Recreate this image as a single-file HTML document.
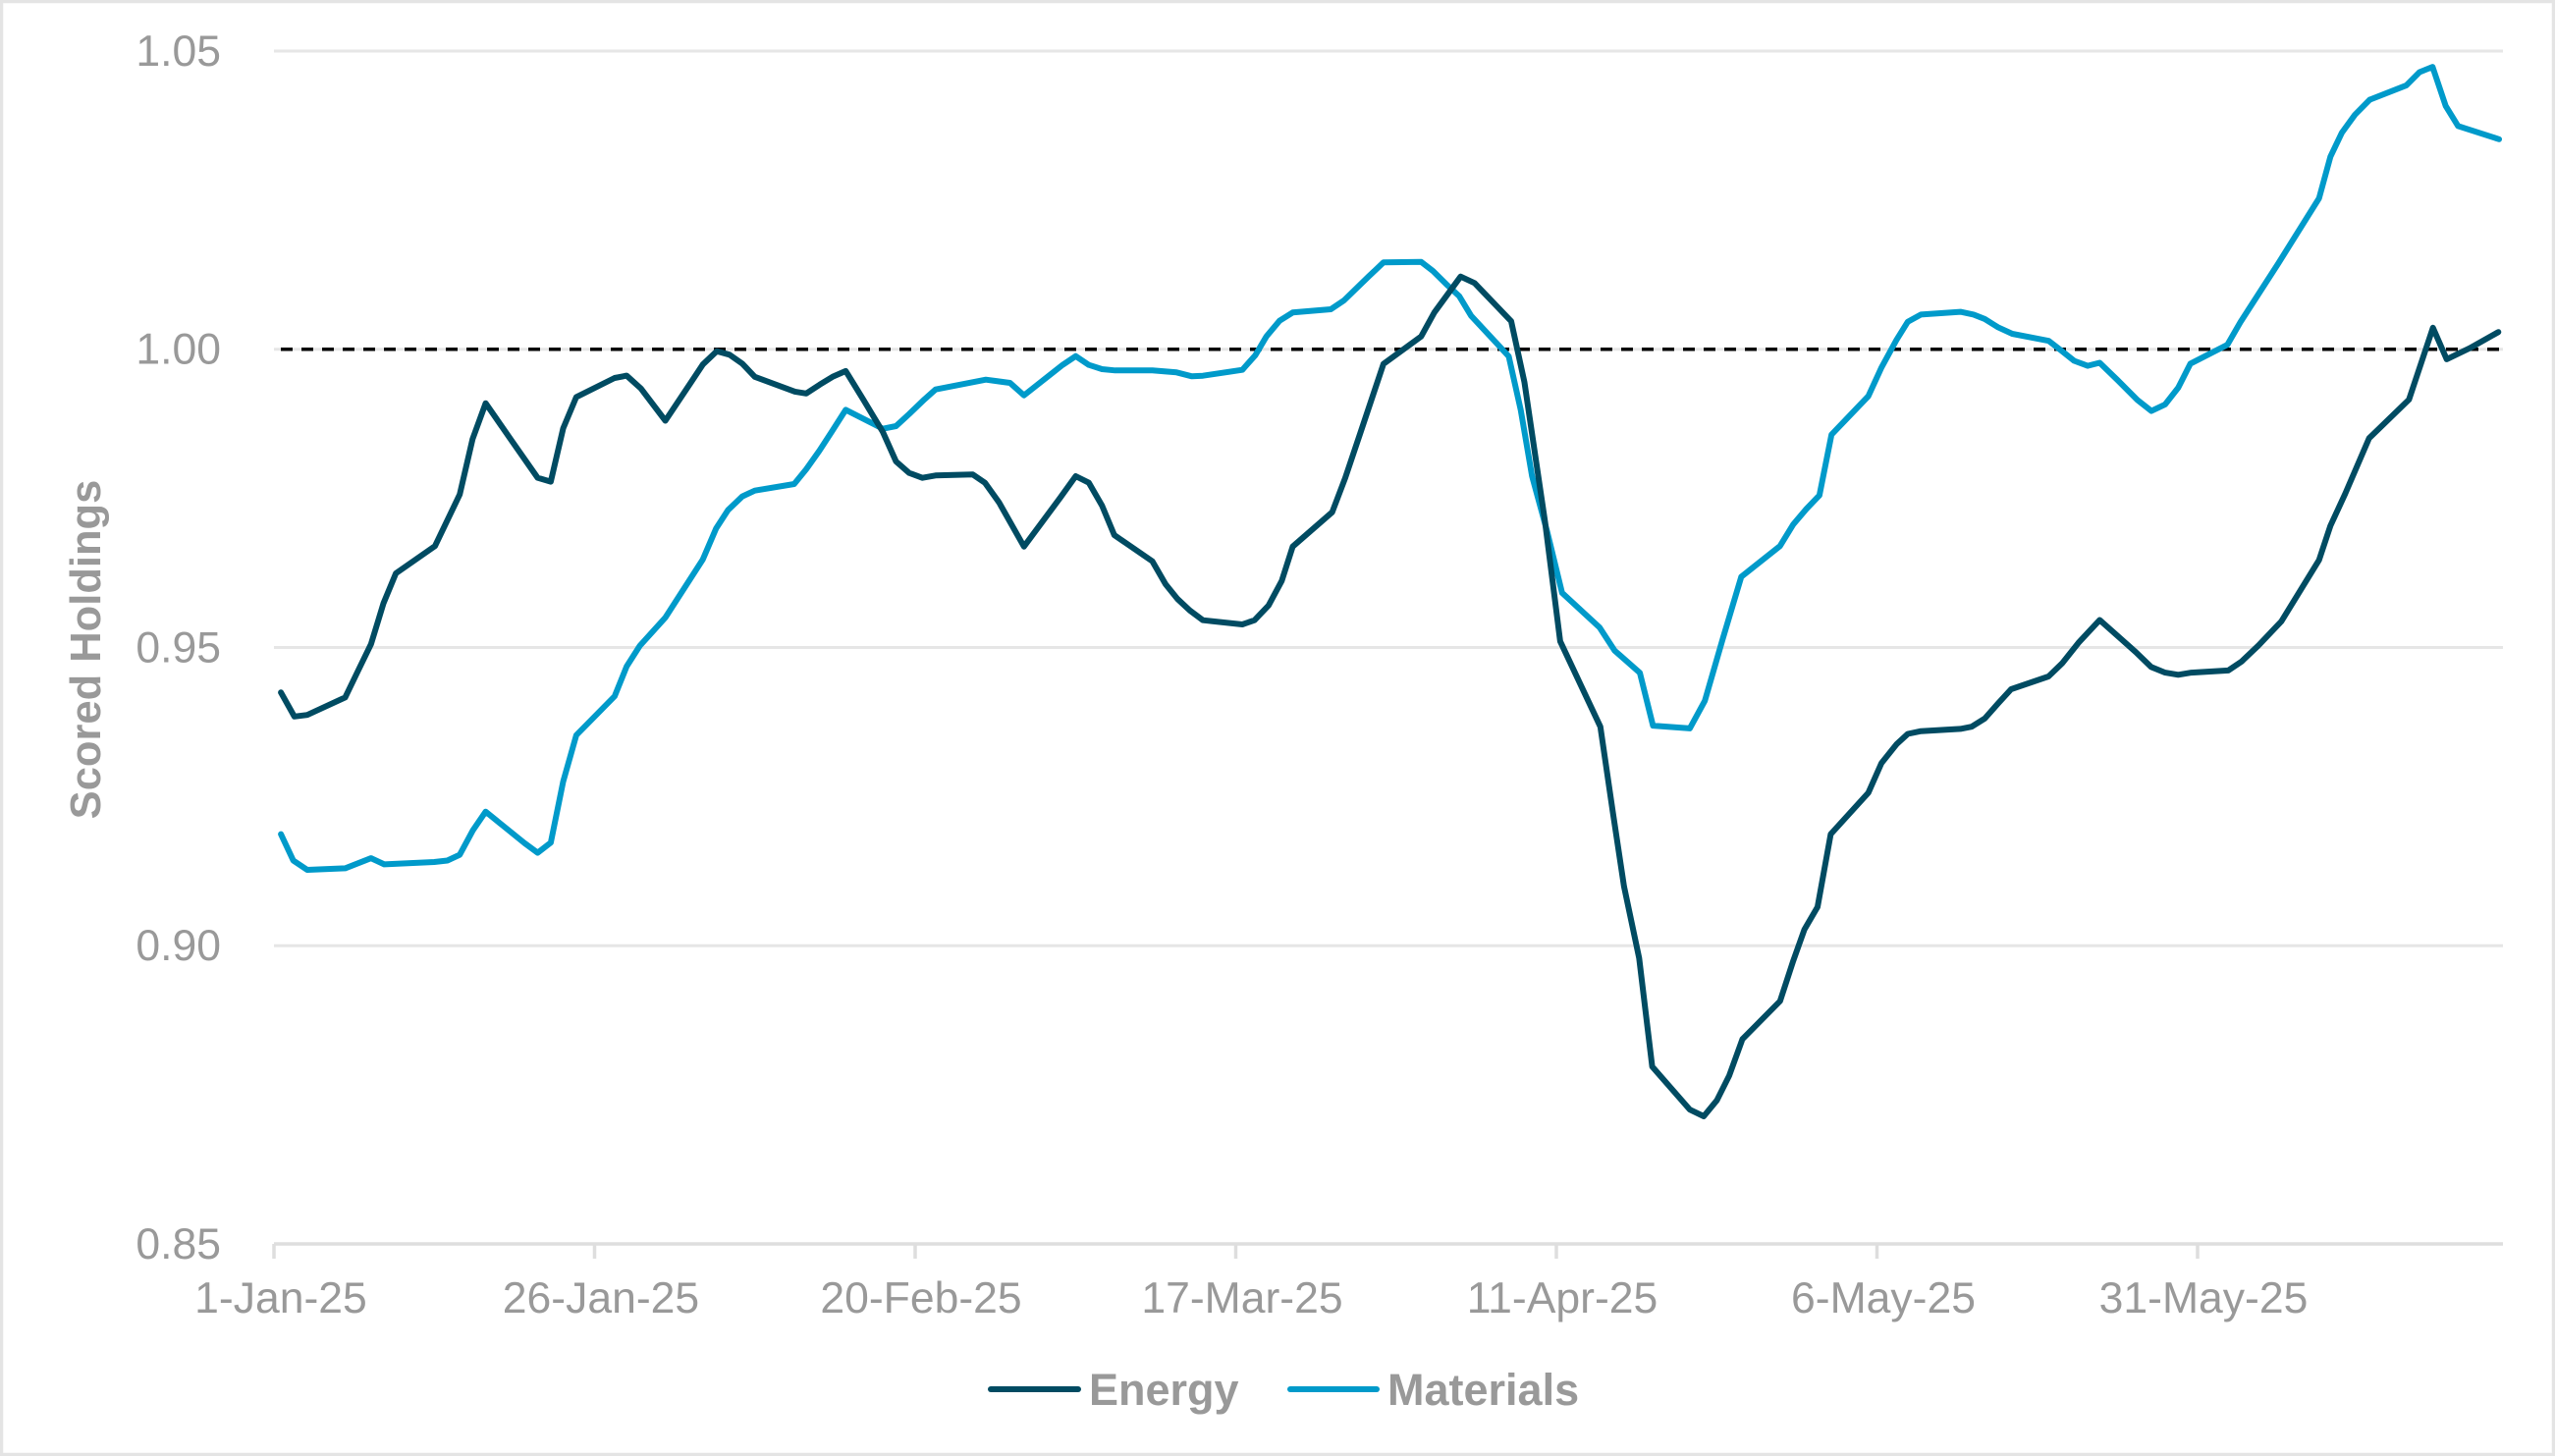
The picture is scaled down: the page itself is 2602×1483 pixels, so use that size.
<!DOCTYPE html>
<html><head><meta charset="utf-8"><style>
html,body{margin:0;padding:0;background:#fff;}
svg{display:block;}
</style></head><body>
<svg width="2602" height="1483" viewBox="0 0 2602 1483" xmlns="http://www.w3.org/2000/svg">
<rect x="0" y="0" width="2602" height="1483" fill="#ffffff"/>
<rect x="1.5" y="1.5" width="2599" height="1480" fill="none" stroke="#e4e4e4" stroke-width="3.5"/>
<g stroke="#e6e6e6" stroke-width="3">
<line x1="279" y1="52" x2="2549" y2="52"/>
<line x1="279" y1="355.7" x2="2549" y2="355.7"/>
<line x1="279" y1="659.5" x2="2549" y2="659.5"/>
<line x1="279" y1="963.2" x2="2549" y2="963.2"/>
</g>
<g stroke="#dedede" stroke-width="3.5">
<line x1="279" y1="1267" x2="2549" y2="1267"/>
<line x1="279" y1="1267" x2="279" y2="1282"/>
<line x1="605.5" y1="1267" x2="605.5" y2="1282"/>
<line x1="932" y1="1267" x2="932" y2="1282"/>
<line x1="1258.5" y1="1267" x2="1258.5" y2="1282"/>
<line x1="1585" y1="1267" x2="1585" y2="1282"/>
<line x1="1911.5" y1="1267" x2="1911.5" y2="1282"/>
<line x1="2238" y1="1267" x2="2238" y2="1282"/>
</g>
<g font-family="Liberation Sans, Arial, sans-serif" font-size="44.5" fill="#999999" text-anchor="end">
<text x="225" y="67">1.05</text>
<text x="225" y="370.7">1.00</text>
<text x="225" y="674.5">0.95</text>
<text x="225" y="978.2">0.90</text>
<text x="225" y="1282">0.85</text>
</g>
<g font-family="Liberation Sans, Arial, sans-serif" font-size="44.5" fill="#999999" text-anchor="middle">
<text x="286" y="1337">1-Jan-25</text>
<text x="612" y="1337">26-Jan-25</text>
<text x="938" y="1337">20-Feb-25</text>
<text x="1265" y="1337">17-Mar-25</text>
<text x="1591" y="1337">11-Apr-25</text>
<text x="1918" y="1337">6-May-25</text>
<text x="2244" y="1337">31-May-25</text>
</g>
<text transform="translate(102,661.5) rotate(-90)" font-family="Liberation Sans, Arial, sans-serif" font-size="43.5" font-weight="bold" fill="#999999" text-anchor="middle">Scored Holdings</text>
<line x1="286" y1="355.7" x2="2545" y2="355.7" stroke="#000000" stroke-width="3.5" stroke-dasharray="12 9"/>
<polyline fill="none" stroke="#009ACA" stroke-width="6" stroke-linejoin="round" stroke-linecap="round" points="
286.1,849.6 298.7,876.5 312.9,886 351.5,884.4 377.9,874.1 391.3,880.4 442.2,878 455.6,876.5 468.2,870.6 481.6,845.7 494.6,826.7 534.1,858.7 547.5,868.6 560.9,858.3 573.5,796.2 586.9,748.8 625.9,709.2 638.2,678.8 651.6,657.8 677.6,629 715.8,569.7 729.2,538.4 741.5,519.4 756,505.6 768.7,499.7 808.8,493 821.1,477.9 834.5,459 847.1,439.6 861.3,417.4
899.1,436.7 912.5,434 925.9,421.7 941.5,406.7 952.7,396.7 1004,386.7 1028.6,390 1042.8,402.7 1082.1,371.7 1095.5,362.7 1108.9,371.7 1122.3,376 1135.7,377.3 1173.6,377.3 1198.2,379.3 1213.8,383.3 1225,382.7 1265.2,376.7 1278.5,361.7 1289.7,342.7 1303.1,326.7 1316.5,318.3 1355.3,315 1368.7,306 1393.7,281.7 1408.9,267.3 1447.3,266.7 1459.3,276 1472.7,289.3 1486.1,301.7 1498.2,321.7 1536.5,362.9
1548.7,417.5 1560.2,484.8 1575.5,541 1590.8,603.8 1629.1,639.2 1644.4,662.7 1670,685.2 1683.4,739.1 1720.9,741.9 1736.2,713.8 1754.2,651.5 1773.3,587.5 1812.8,556.1 1826.2,534.2 1839.5,518.5 1852.9,504.5 1865.2,442.7 1902.7,403.5 1916.1,374.3 1931.4,346.2 1942.9,327.7 1956.3,320.4 1996.5,317.6 2009.9,320.4 2021.3,324.9 2034.7,333.3 2049.3,340 2086.5,347.2 2099.9,357.6 2112.3,367.5
2126,372.6 2138.3,369.5 2156.7,387.3 2176.7,407.4 2191,418.6 2205,411.9 2218.3,394.9 2230.7,370.4 2268.3,351.2 2281.7,328 2320,268.6 2361.7,202 2373.3,159.6 2385,135.1 2398.3,116.8 2413.3,101.6 2450.7,86.9 2464,73.5 2477.3,68.1 2490.7,107.9 2503.3,128.4 2545,141.8"/>
<polyline fill="none" stroke="#004B62" stroke-width="6" stroke-linejoin="round" stroke-linecap="round" points="
286.1,705.3 299.8,729.8 312.9,728.2 351.5,710.4 364.5,683.5 377.9,655.9 390.6,614.3 403.2,583.9 443,556.2 468.2,503.6 481.3,447.1 494.6,410.7 520.7,448.3 547.5,486.6 560.9,490.6 573.5,436.4 586.9,404.4 625.9,385 638.2,382.6 652.7,395.7 677.6,428.5 703.2,390.2 715.8,371.2 730,357.7 743,361.3 756,370.4 768.7,383.8 809.6,398.9 821.1,400.8 834.9,391.7 847.9,383.8 861.3,377.9
879,406.7 899.1,440 912.5,470 925.9,481.7 939.3,486.7 952.7,484.3 990.6,483.3 1003.1,491.7 1017.4,511.7 1042.8,556.7 1079.9,506.7 1095.5,485 1108.9,491.7 1122.3,515 1134.8,545 1173.6,571.7 1187,595 1199.1,610 1211.6,621.7 1225,631.7 1265.2,636 1277.6,631.7 1291.9,616.7 1305.3,591.7 1316.5,556.7 1356.7,521.7 1370,486.7 1385.7,440 1408.9,370.7 1447.3,342.7 1460.7,318.3 1487.5,281.7 1501.7,288.3 1539,327.2
1552.5,389.4 1573.6,532.5 1588.9,653.2 1629.8,740.2 1642.5,827.2 1653.9,902.9 1669.3,975.9 1682.6,1086.4 1720.9,1130.2 1735.1,1137 1748.5,1120.7 1761.1,1095.4 1774.5,1058.4 1812.8,1019.7 1826.2,978.7 1837.6,946.7 1851,923.7 1864.4,849.6 1902.7,807.5 1916.1,777.2 1931.4,758.1 1942.9,747.5 1956.3,744.7 1996.5,742.4 2007.9,740.2 2021.3,731.8 2034.7,716.6 2048.1,702 2086.2,689 2100,675.7
2116.7,654.7 2138.3,631.5 2175,664.1 2190.7,679.3 2205,685.1 2218.3,687.3 2231.7,685.1 2269.3,682.9 2282.7,673.9 2300,657.4 2323.3,632.9 2361.7,570.4 2373.3,535.5 2388.3,503 2412.7,446.3 2453.3,407 2477.7,333.8 2491.7,365.9 2515,354.7 2544.3,338.2"/>
<line x1="1009" y1="1415" x2="1098" y2="1415" stroke="#004B62" stroke-width="6" stroke-linecap="round"/>
<line x1="1314" y1="1415" x2="1402" y2="1415" stroke="#009ACA" stroke-width="6" stroke-linecap="round"/>
<g font-family="Liberation Sans, Arial, sans-serif" font-size="45" font-weight="bold" fill="#999999">
<text x="1109" y="1431">Energy</text>
<text x="1413" y="1431">Materials</text>
</g>
</svg>
</body></html>
